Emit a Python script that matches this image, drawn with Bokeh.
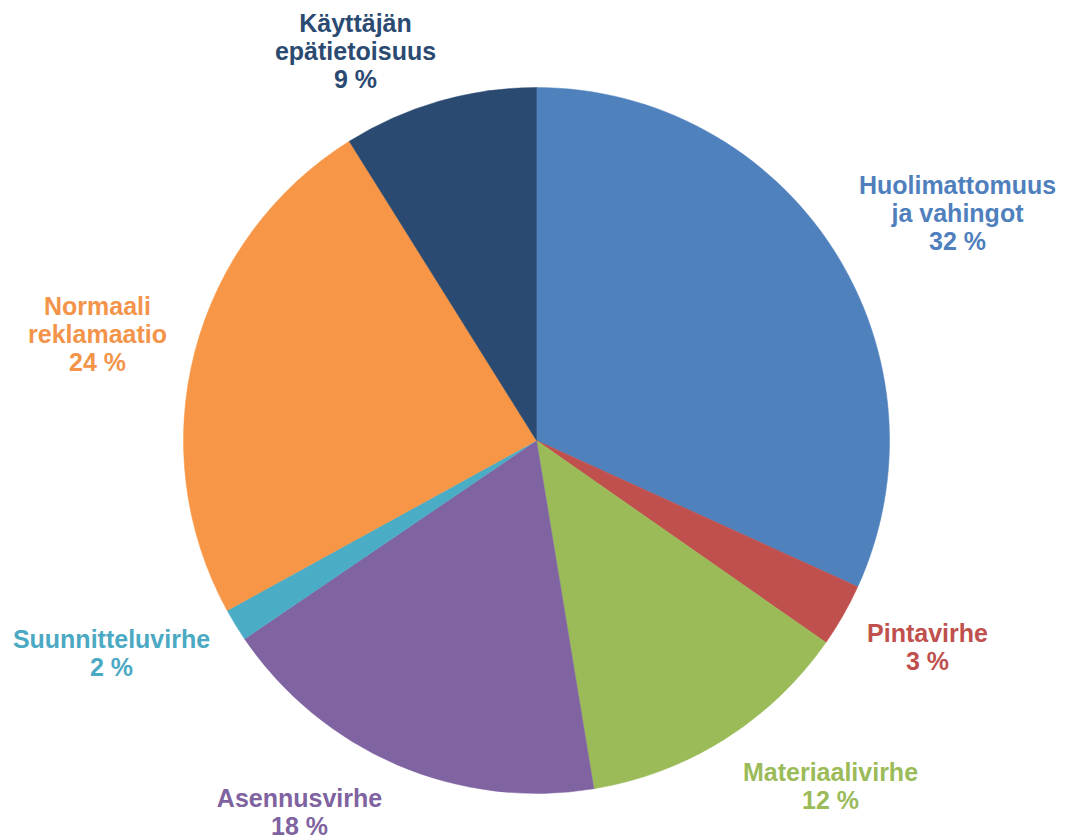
import math
from bokeh.plotting import figure
from bokeh.models import Range1d, ColumnDataSource
from bokeh.core.properties import value
from bokeh.embed import file_html
from bokeh.resources import INLINE

# ---- data ----
categories = ["Huolimattomuus\nja vahingot", "Pintavirhe", "Materiaalivirhe",
              "Asennusvirhe", "Suunnitteluvirhe", "Normaali\nreklamaatio",
              "Käyttäjän\nepätietoisuus"]
shares = [31.8, 2.9, 12.7, 18.1, 1.5, 24.1, 8.9]
pct_labels = ["32 %", "3 %", "12 %", "18 %", "2 %", "24 %", "9 %"]
colors = ["#4F81BD", "#C0504D", "#9BBB59", "#8064A2", "#4BACC6", "#F79646", "#2B4A71"]
text_colors = ["#4F7FBC", "#C0504D", "#9BBB59", "#7F63A1", "#4BA9C3", "#F3944A", "#2B4A71"]

# ---- layout (label anchor centres in page pixels of first line) ----
W, H = 1068, 838
CX, CY, R = 536, 398, 353
label_x = [957, 927, 830, 299, 111, 97, 355]
label_top_y = [184, 632, 771, 797, 638, 305, 22]  # from top of figure
LINE = 28

p = figure(width=W, height=H, output_backend="svg", toolbar_location=None,
           x_range=Range1d(0, W), y_range=Range1d(0, H), min_border=0)
p.axis.visible = False
p.grid.visible = False
p.outline_line_color = None
p.background_fill_color = "white"
p.border_fill_color = "white"

total = sum(shares)
starts, ends = [], []
cum = 0.0
for s in shares:
    starts.append(math.pi / 2 - 2 * math.pi * cum / total)
    cum += s
    ends.append(math.pi / 2 - 2 * math.pi * cum / total)

src = ColumnDataSource(dict(x=[CX] * len(shares), y=[CY] * len(shares),
                            start=starts, end=ends, color=colors))
p.wedge(x="x", y="y", radius=R, start_angle="start", end_angle="end",
        direction="clock", fill_color="color", line_color="color", line_width=0.5,
        source=src)

tx, ty, tt, tc = [], [], [], []
for i, cat in enumerate(categories):
    lines = cat.split("\n") + [pct_labels[i]]
    for j, ln in enumerate(lines):
        tx.append(label_x[i])
        ty.append(H - (label_top_y[i] + j * LINE))
        tt.append(ln)
        tc.append(text_colors[i])

tsrc = ColumnDataSource(dict(x=tx, y=ty, text=tt, color=tc))
p.text(x="x", y="y", text="text", text_color="color", source=tsrc,
       text_align="center", text_baseline="middle",
       text_font=value("Liberation Sans"), text_font_style="bold",
       text_font_size="25px")

open("out.html", "w").write(file_html(p, INLINE))
